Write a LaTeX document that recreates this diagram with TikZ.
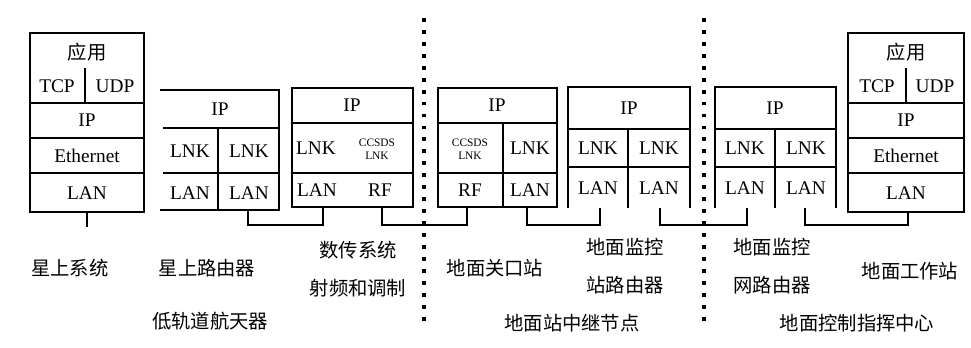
\documentclass[tikz,border=0pt]{standalone}
\usepackage{fontspec}
\setmainfont{Liberation Serif}
\newfontfamily\cjk{Noto Sans CJK SC}
\begin{document}
\begin{tikzpicture}[x=0.02cm, y=-0.02cm, very thick,
    cell/.style={font=\fontsize{11}{13}\selectfont, inner sep=0pt},
    tiny/.style={font=\fontsize{6.5}{7.5}\selectfont, align=center, inner sep=0pt},
    zh/.style={font=\cjk\fontsize{11}{13}\selectfont, inner sep=0pt},
    sep/.style={line width=2.2pt, dash pattern=on 2.2pt off 4.6pt}]
    \fill[white] (0,0) rectangle (971,348);
    % 星上系统
    \draw (30,33) rectangle (144,212);
    \draw (30,103) -- (144,103) (30,138) -- (144,138) (30,173) -- (144,173) (85,68) -- (85,103);
    \node[cell] (app1) at (87,52) {\cjk 应用};
    \node[cell] (tcp1) at (57,86) {TCP};
    \node[cell] (udp1) at (115,86) {UDP};
    \node[cell] (ip1) at (87,120) {IP};
    \node[cell] (eth1) at (87,156) {Ethernet};
    \node[cell] (lan1) at (87,193) {LAN};
    % 星上路由器
    \draw (160,90) -- (279,90) -- (279,210) -- (160,210);
    \draw (163,128) -- (279,128) (163,173) -- (279,173) (218,128) -- (218,210);
    \node[cell] (ip2) at (220,109) {IP};
    \node[cell] (lnk2a) at (190,151) {LNK};
    \node[cell] (lnk2b) at (249,151) {LNK};
    \node[cell] (lan2a) at (190,193) {LAN};
    \node[cell] (lan2b) at (249,193) {LAN};
    % 数传系统
    \draw (292,88) rectangle (413,207);
    \draw (292,123) -- (413,123) (292,173) -- (413,173);
    \node[cell] (ip3) at (352,105) {IP};
    \node[cell] (lnk3) at (316,148) {LNK};
    \node[tiny] (ccs3) at (377,149) {CCSDS\\LNK};
    \node[cell] (lan3) at (317,190) {LAN};
    \node[cell] (rf3) at (380,190) {RF};
    % 地面关口站
    \draw (438,88) rectangle (557,207);
    \draw (438,123) -- (557,123) (438,173) -- (557,173) (503,123) -- (503,207);
    \node[cell] (ip4) at (497,105) {IP};
    \node[tiny] (ccs4) at (470,149) {CCSDS\\LNK};
    \node[cell] (lnk4) at (530,148) {LNK};
    \node[cell] (rf4) at (470,190) {RF};
    \node[cell] (lan4) at (530,190) {LAN};
    % 地面监控站路由器
    \draw (568,208) -- (568,87) -- (690,87) -- (690,208);
    \draw (568,129) -- (690,129) (568,167) -- (690,167) (628,129) -- (628,208);
    \node[cell] (ip5) at (629,108) {IP};
    \node[cell] (lnk5a) at (598,148) {LNK};
    \node[cell] (lnk5b) at (659,148) {LNK};
    \node[cell] (lan5a) at (598,188) {LAN};
    \node[cell] (lan5b) at (659,188) {LAN};
    % 地面监控网路由器
    \draw (715,208) -- (715,87) -- (836,87) -- (836,208);
    \draw (715,129) -- (836,129) (715,167) -- (836,167) (775,129) -- (775,208);
    \node[cell] (ip6) at (775,108) {IP};
    \node[cell] (lnk6a) at (745,148) {LNK};
    \node[cell] (lnk6b) at (806,148) {LNK};
    \node[cell] (lan6a) at (745,188) {LAN};
    \node[cell] (lan6b) at (806,188) {LAN};
    % 地面工作站
    \draw (848,33) rectangle (964,212);
    \draw (848,103) -- (964,103) (848,138) -- (964,138) (848,173) -- (964,173) (906,68) -- (906,103);
    \node[cell] (app7) at (906,52) {\cjk 应用};
    \node[cell] (tcp7) at (877,86) {TCP};
    \node[cell] (udp7) at (935,86) {UDP};
    \node[cell] (ip7) at (906,120) {IP};
    \node[cell] (eth7) at (906,156) {Ethernet};
    \node[cell] (lan7) at (906,193) {LAN};
    % connectors
    \coordinate (p1) at (87,212);
    \coordinate (p1e) at (87,227);
    \coordinate (p2) at (248,210);
    \coordinate (p3a) at (323,207);
    \coordinate (p3b) at (382,207);
    \coordinate (p4a) at (467,207);
    \coordinate (p4b) at (527,207);
    \coordinate (p5a) at (600,208);
    \coordinate (p5b) at (660,208);
    \coordinate (p6a) at (747,208);
    \coordinate (p6b) at (805,208);
    \coordinate (p7) at (908,212);
    \draw (p1) -- (p1e);
    \draw (p2) -- (p2 |- 0,225) -| (p3a);
    \draw (p3b) -- (p3b |- 0,225) -| (p4a);
    \draw (p4b) -- (p4b |- 0,225) -| (p5a);
    \draw (p5b) -- (p5b |- 0,225) -| (p6a);
    \draw (p6b) -- (p6b |- 0,225) -| (p7);
    % dividers
    \draw[sep] (424,18) -- (424,328);
    \draw[sep] (704,18) -- (704,328);
    % labels
    \node[zh] (t1) at (70,268) {星上系统};
    \node[zh] (t2) at (207,268) {星上路由器};
    \node[zh] (g1) at (210,321) {低轨道航天器};
    \node[zh] (t3a) at (358,250) {数传系统};
    \node[zh] (t3b) at (358,288) {射频和调制};
    \node[zh] (t4) at (495,268) {地面关口站};
    \node[zh] (t5a) at (625,247) {地面监控};
    \node[zh] (t5b) at (625,285) {站路由器};
    \node[zh] (g2) at (572,323) {地面站中继节点};
    \node[zh] (t6a) at (772,247) {地面监控};
    \node[zh] (t6b) at (772,285) {网路由器};
    \node[zh] (t7) at (910,271) {地面工作站};
    \node[zh] (g3) at (857,323) {地面控制指挥中心};
\end{tikzpicture}
\end{document}
